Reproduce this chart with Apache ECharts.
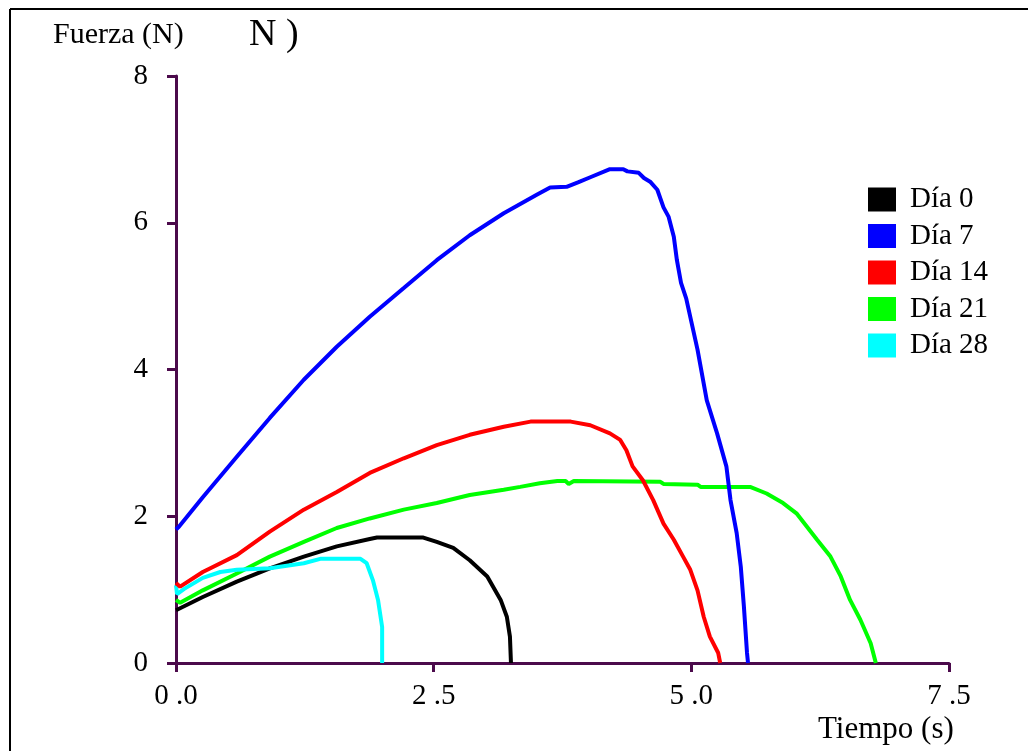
<!DOCTYPE html>
<html>
<head>
<meta charset="utf-8">
<script src="https://cdn.jsdelivr.net/npm/echarts@6/dist/echarts.min.js"></script>
<style>
  html, body { margin: 0; padding: 0; background: #fff; }
  #chart { width: 1028px; height: 751px; }
</style>
</head>
<body>
<div id="chart"></div>
<script>
// Force (N) against time (s) for each sampling day
const seriesNames = ['Día 0', 'Día 7', 'Día 14', 'Día 21', 'Día 28'];
const seriesColors = ['#000000', '#0000ff', '#ff0000', '#00ff00', '#00ffff'];

const dia0 = [[0,0.72],[0.26,0.90],[0.59,1.11],[0.91,1.29],[1.24,1.45],[1.56,1.59],[1.88,1.69],[1.95,1.71],[2.40,1.71],[2.53,1.65],[2.69,1.57],[2.85,1.40],[3.02,1.18],[3.15,0.86],[3.21,0.63],[3.24,0.36],[3.25,0]];
const dia7 = [[0,1.82],[0.03,1.86],[0.26,2.26],[0.59,2.81],[0.91,3.34],[1.24,3.86],[1.56,4.31],[1.88,4.72],[2.21,5.11],[2.53,5.49],[2.85,5.83],[3.18,6.13],[3.50,6.38],[3.63,6.48],[3.79,6.49],[3.90,6.55],[4.02,6.62],[4.21,6.73],[4.34,6.73],[4.38,6.70],[4.49,6.68],[4.54,6.61],[4.60,6.56],[4.67,6.45],[4.73,6.21],[4.78,6.08],[4.83,5.81],[4.86,5.49],[4.90,5.18],[4.95,4.97],[5.06,4.27],[5.15,3.58],[5.25,3.13],[5.34,2.68],[5.38,2.22],[5.44,1.77],[5.48,1.31],[5.51,0.77],[5.54,0.14],[5.55,0]];
const dia14 = [[0,1.09],[0.04,1.04],[0.26,1.24],[0.59,1.47],[0.91,1.79],[1.24,2.09],[1.56,2.33],[1.88,2.59],[2.21,2.79],[2.53,2.97],[2.85,3.11],[3.18,3.22],[3.44,3.29],[3.83,3.29],[4.02,3.24],[4.21,3.13],[4.31,3.04],[4.37,2.90],[4.43,2.68],[4.53,2.49],[4.63,2.22],[4.73,1.90],[4.83,1.68],[4.92,1.45],[4.99,1.27],[5.06,0.99],[5.12,0.63],[5.18,0.36],[5.26,0.14],[5.28,0]];
const dia21 = [[0,0.86],[0.04,0.82],[0.26,0.99],[0.59,1.22],[0.91,1.45],[1.24,1.65],[1.56,1.84],[1.88,1.97],[2.21,2.09],[2.53,2.18],[2.85,2.29],[3.18,2.36],[3.34,2.40],[3.53,2.45],[3.70,2.48],[3.78,2.48],[3.81,2.44],[3.86,2.48],[4.70,2.47],[4.73,2.44],[5.06,2.43],[5.09,2.40],[5.57,2.40],[5.73,2.31],[5.89,2.18],[6.02,2.04],[6.12,1.86],[6.22,1.68],[6.35,1.45],[6.45,1.18],[6.54,0.86],[6.64,0.59],[6.74,0.27],[6.79,0]];
const dia28 = [[0,1.06],[0.01,0.94],[0.08,1.01],[0.26,1.16],[0.43,1.24],[0.59,1.27],[0.91,1.29],[1.24,1.36],[1.40,1.42],[1.79,1.42],[1.85,1.36],[1.91,1.13],[1.96,0.86],[2.00,0.49],[2.00,0]];

const xTicks = [0, 2.5, 5, 7.5];
const yTicks = [0, 2, 4, 6, 8];

const serif = "'Liberation Serif', 'Times New Roman', serif";
const axisColor = '#4b0a4b';

// draw order: later series sit on top
const drawOrder = [
  { name: seriesNames[3], data: dia21, color: seriesColors[3] },
  { name: seriesNames[0], data: dia0, color: seriesColors[0] },
  { name: seriesNames[4], data: dia28, color: seriesColors[4] },
  { name: seriesNames[2], data: dia14, color: seriesColors[2] },
  { name: seriesNames[1], data: dia7, color: seriesColors[1] }
];

const chart = echarts.init(document.getElementById('chart'));
chart.setOption({
  backgroundColor: '#ffffff',
  animation: false,
  grid: { left: 176, right: 79, top: 76, bottom: 88, containLabel: false },
  xAxis: {
    type: 'value',
    min: xTicks[0],
    max: xTicks[xTicks.length - 1],
    interval: 2.5,
    axisLine: { show: true, onZero: false, lineStyle: { color: axisColor, width: 3 } },
    axisTick: { show: true, inside: false, length: 9, lineStyle: { color: axisColor, width: 3 } },
    splitLine: { show: false },
    axisLabel: {
      margin: 19,
      color: '#000',
      fontFamily: serif,
      fontSize: 29,
      formatter: v => v.toFixed(1).replace('.', ' .')
    }
  },
  yAxis: {
    type: 'value',
    min: yTicks[0],
    max: yTicks[yTicks.length - 1],
    interval: 2,
    axisLine: { show: true, onZero: false, lineStyle: { color: axisColor, width: 3 } },
    axisTick: { show: true, inside: false, length: 9, lineStyle: { color: axisColor, width: 3 } },
    splitLine: { show: false },
    axisLabel: {
      margin: 28,
      color: '#000',
      fontFamily: serif,
      fontSize: 29,
      padding: [6, 0, 0, 0]
    }
  },
  legend: {
    data: seriesNames,
    orient: 'vertical',
    left: 863,
    top: 180,
    icon: 'rect',
    itemWidth: 28,
    itemHeight: 24,
    itemGap: 7.5,
    textStyle: {
      color: '#000',
      fontFamily: serif,
      fontSize: 29,
      lineHeight: 24,
      padding: [2, 0, 0, 9]
    }
  },
  graphic: [
    { type: 'line', shape: { x1: 10, y1: 9, x2: 1028, y2: 9 }, style: { stroke: '#000', lineWidth: 2 } },
    { type: 'line', shape: { x1: 10, y1: 9, x2: 10, y2: 751 }, style: { stroke: '#000', lineWidth: 2 } },
    { type: 'text', left: 53, top: 20, style: { text: 'Fuerza (N)', font: '30px ' + serif, fill: '#000' } },
    { type: 'text', left: 249, top: 16, style: { text: 'N )', font: '38px ' + serif, fill: '#000' } },
    { type: 'text', left: 818, top: 714, style: { text: 'Tiempo (s)', font: '31px ' + serif, fill: '#000' } }
  ],
  series: drawOrder.map(s => ({
    name: s.name,
    type: 'line',
    data: s.data,
    showSymbol: false,
    smooth: false,
    color: s.color,
    lineStyle: { color: s.color, width: 4 }
  }))
});
</script>
</body>
</html>
